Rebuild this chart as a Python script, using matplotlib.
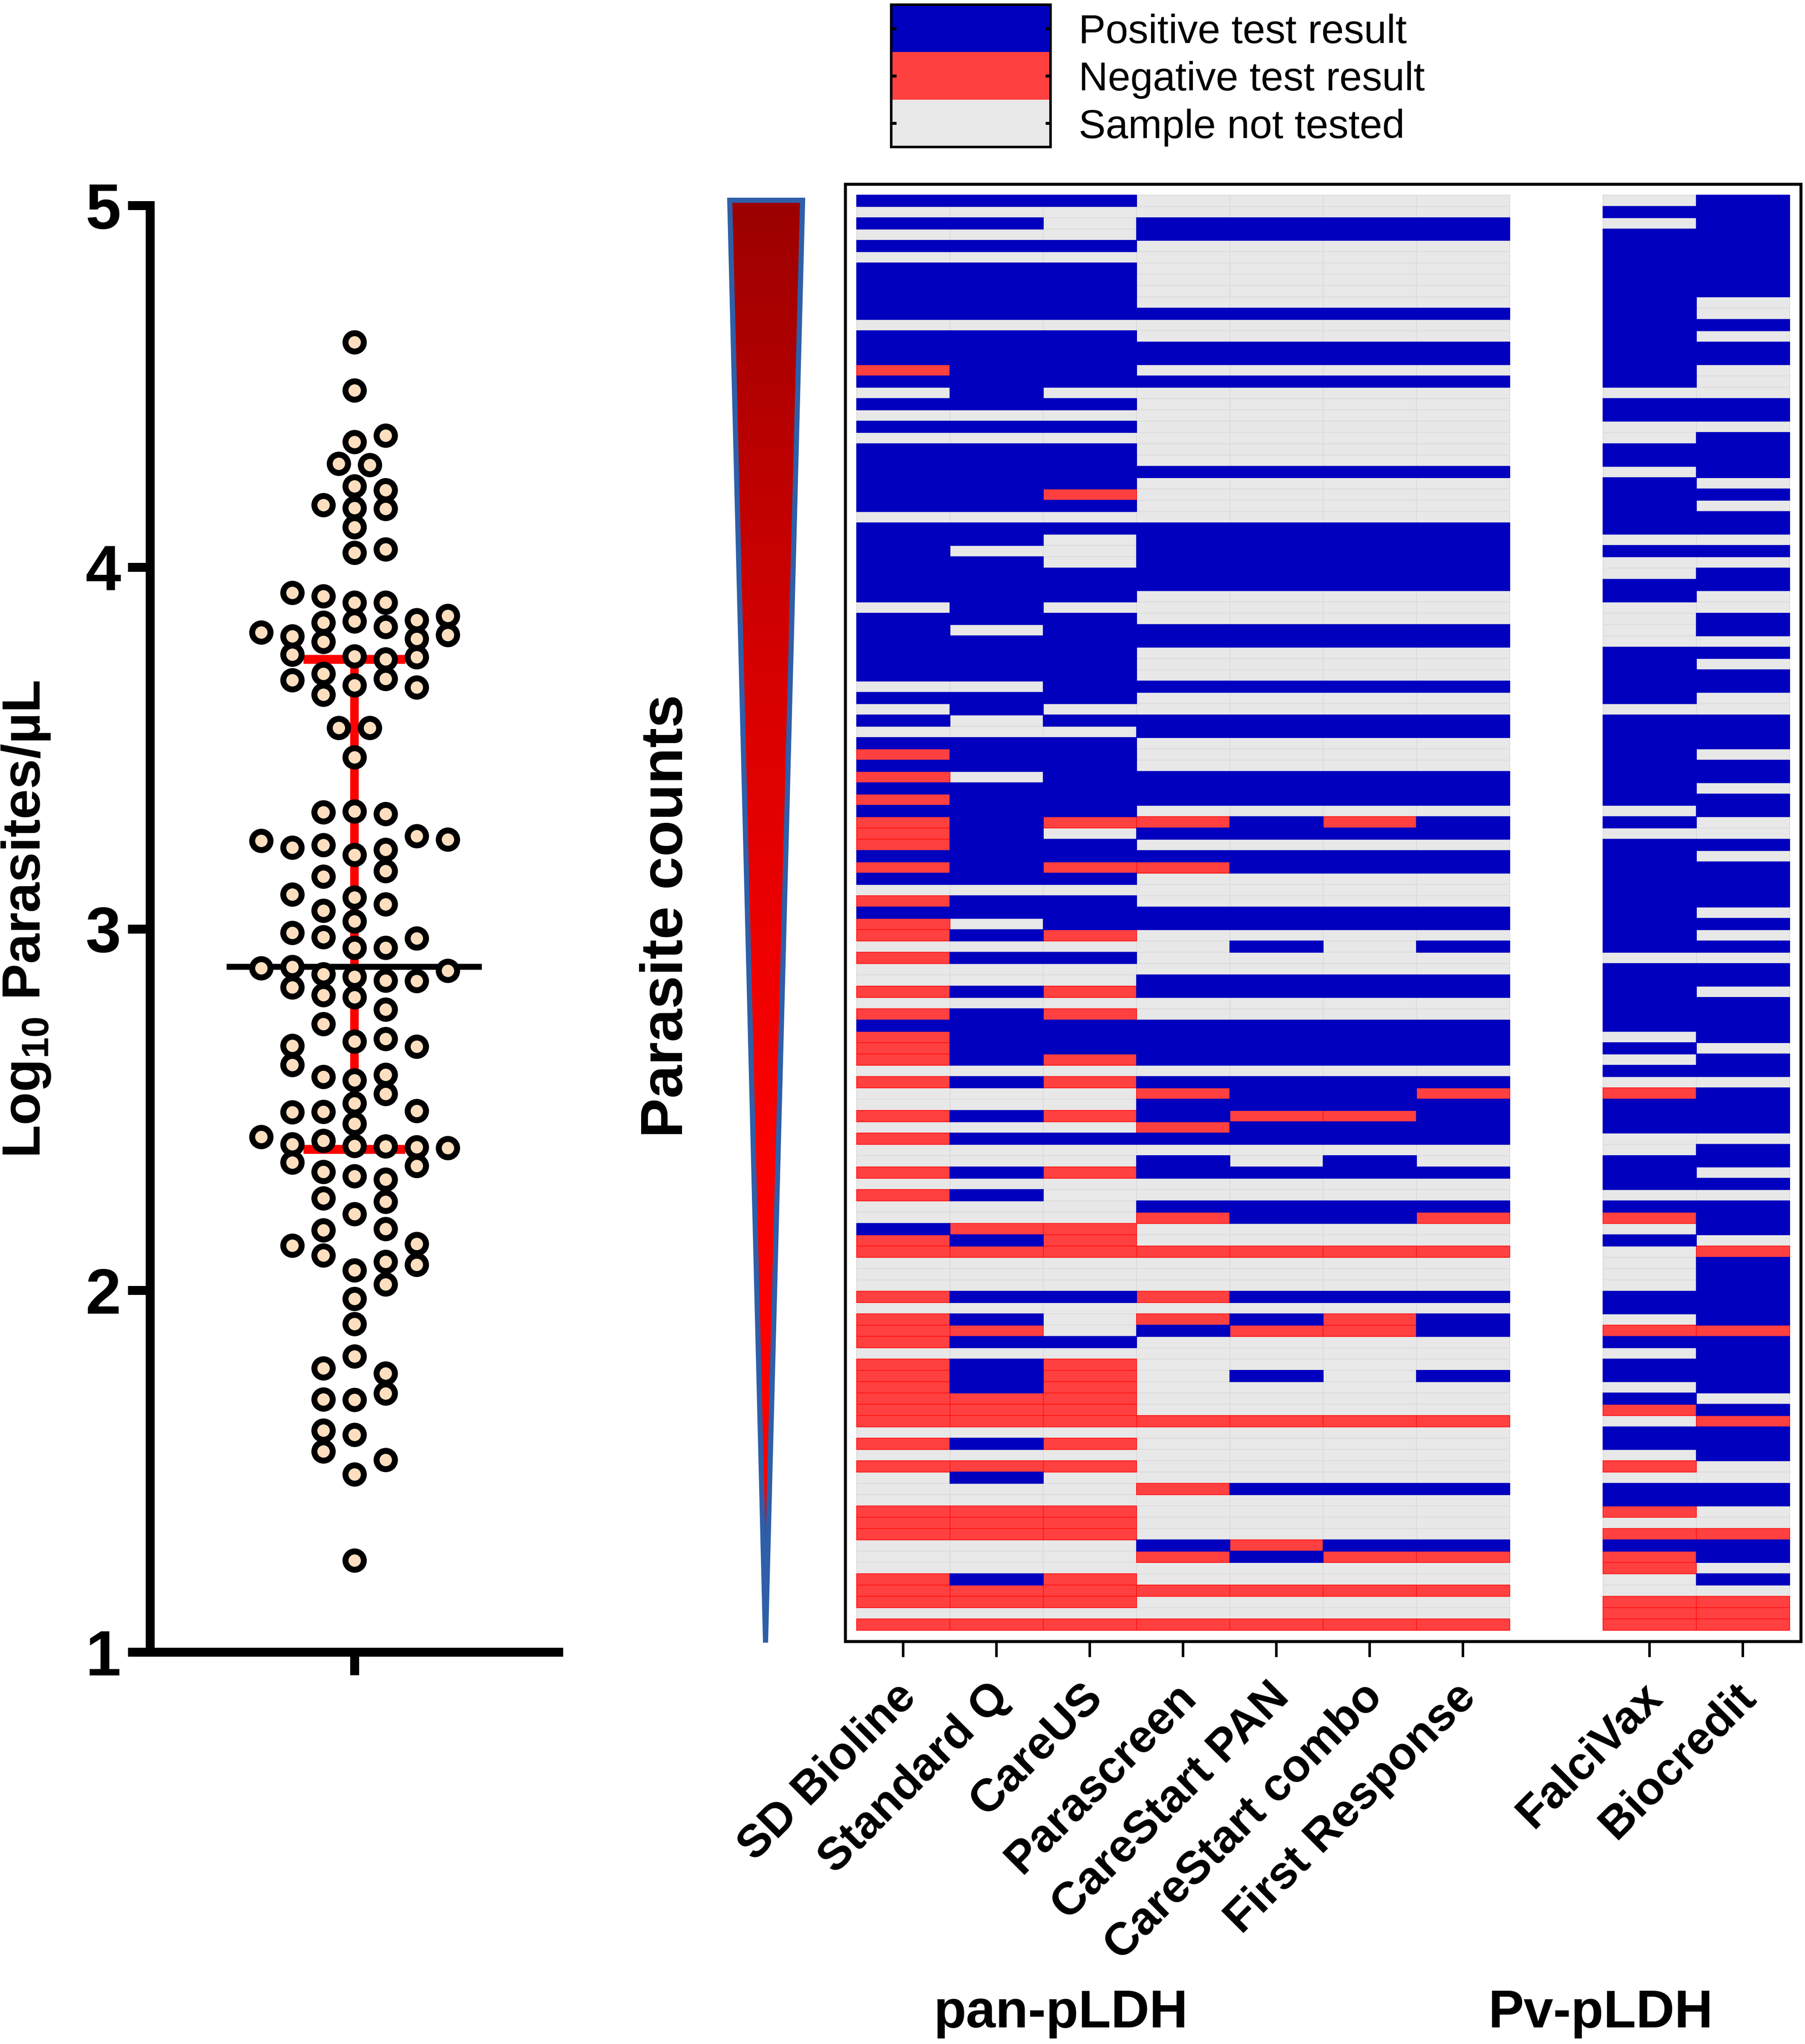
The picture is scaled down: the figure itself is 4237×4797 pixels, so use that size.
import numpy as np
import matplotlib
matplotlib.use("Agg")
import matplotlib.pyplot as plt
from matplotlib.colors import ListedColormap, LinearSegmentedColormap
from matplotlib.patches import Polygon
from matplotlib.transforms import ScaledTranslation

plt.rcParams["font.family"] = ["Liberation Sans", "DejaVu Sans"]
plt.rcParams["font.weight"] = "bold"
plt.rcParams["mathtext.fontset"] = "custom"
plt.rcParams["mathtext.rm"] = "Liberation Sans:bold"
plt.rcParams["mathtext.bf"] = "Liberation Sans:bold"

# swarm values, log10 parasites/uL, one list per swarm column
dots_m3 = [3.820, 3.243, 2.891, 2.424]
dots_m2 = [3.929, 3.809, 3.758, 3.687, 3.225, 3.095, 2.989, 2.895, 2.838, 2.677, 2.624, 2.493, 2.404,
           2.354, 2.124]
dots_m1 = [4.172, 3.919, 3.847, 3.793, 3.705, 3.647, 3.322, 3.231, 3.144, 3.050, 2.977, 2.875, 2.817,
           2.737, 2.590, 2.494, 2.414, 2.328, 2.255, 2.167, 2.097, 1.785, 1.699, 1.613, 1.555]
dots_mh = [4.286, 3.555]
dots_0 = [4.622, 4.489, 4.346, 4.224, 4.164, 4.111, 4.040, 3.902, 3.850, 3.753, 3.673, 3.474, 3.325,
          3.204, 3.087, 3.021, 2.947, 2.867, 2.811, 2.688, 2.581, 2.518, 2.461, 2.400, 2.316, 2.211,
          2.056, 1.977, 1.907, 1.818, 1.698, 1.601, 1.491, 1.253]
dots_ph = [4.283, 3.556]
dots_p1 = [4.364, 4.213, 4.161, 4.049, 3.902, 3.835, 3.745, 3.691, 3.318, 3.219, 3.160, 3.068, 2.947,
           2.857, 2.777, 2.695, 2.597, 2.544, 2.399, 2.307, 2.245, 2.170, 2.079, 2.017, 1.770, 1.715,
           1.531]
dots_p2 = [3.854, 3.802, 3.751, 3.667, 3.256, 2.974, 2.856, 2.674, 2.496, 2.396, 2.344, 2.129, 2.071]
dots_p3 = [3.865, 3.812, 3.247, 2.884, 2.394]
swarm_slots = [-3, -2, -1, -0.5, 0, 0.5, 1, 2, 3]

median_value = 2.895
q1_value = 2.39
q3_value = 3.745

pan_tests = ["SD Bioline", "Standard Q", "CareUS", "Parascreen", "CareStart PAN", "CareStart combo",
             "First Response"]
pv_tests = ["FalciVax", "Biocredit"]

# P positive, N negative, E not tested, highest parasite count first
pan_rows = """PPPEEEE EEEEEEE PPEPPPP EEEPPPP PPPEEEE EEEEEEE PPPEEEE PPPEEEE PPPEEEE PPPEEEE
PPPPPPP EEEEEEE PPPEEEE PPPPPPP PPPPPPP NPPEEEE PPPPPPP EPEEEEE PPPEEEE EEEEEEE
PPPEEEE EEEEEEE PPPEEEE PPPEEEE PPPPPPP PPPEEEE PPNEEEE PPPEEEE EEEEEEE PPPPPPP
PPEPPPP PEEPPPP PPEPPPP PPPPPPP PPPPPPP PPPEEEE EPEEEEE PPPEEEE PEPPPPP PPPPPPP
PPPEEEE PPPEEEE PPPEEEE EEPPPPP PPPEEEE EPEEEEE PEPPPPP EEEPPPP PPPEEEE NPPEEEE
PPPEEEE NEPPPPP PPPPPPP NPPPPPP PPPEEEE NPNNPNP NPEPPPP NPPEEEE PPPPPPP NPNNPPP
PPPEEEE EEEEEEE NPPEEEE PPPPPPP NEPPPPP NPNEEEE EEEEPEP NPPEEEE EEEEEEE EEEPPPP
NPNPPPP EEEEEEE NPNEEEE PPPPPPP NPPPPPP NPPPPPP NPNPPPP EEEEEEE NPNPPPP EEENPPN
EEEPPPP NPNPNNP EEENPPP NPPPPPP EEEEEEE EEEPEPE NPNPPPP EEEEEEE NPEEEEE EEEPPPP
EEENPPN PNNEEEE NPNEEEE NNNNNNN EEEEEEE EEEEEEE EEEEEEE NPPNPPP EEEEEEE NPENPNP
NNEPNNP NPPEEEE EEEEEEE NPNEEEE NPNEPEP NPNEEEE NNNEEEE NNNEEEE NNNNNNN EEEEEEE
NPNEEEE EEEEEEE NNNEEEE EPEEEEE EEENPPP EEEEEEE NNNEEEE NNNEEEE NNNEEEE EEEPNPP
EEENPNN EEEEEEE NPNEEEE NNNNNNN NNNEEEE EEEEEEE NNNNNNN""".split()

pv_rows = """EP PP EP PP PP PP PP PP PP PE PE PP PE PP PP PE PE EE PP PP
EE EP PP PP EP PE PP PE PP PP EE PP EE EP PP PE EE EP EP EE
PP PE PP PP PE EE PP PP PP PE PP PP PE PP EP PE EE PP PE PP
PP PP PP PE PP PE PP EE PP PP PE PP PP PP EP PE EP PP EE NP
PP PP PP EE EP PP PE PP EE PP NP EP PE EN EP EP EP PP PP EP
NN PP EP PP PP EP PE NP EN PP PP EP NE EE PP PP NE EE NN PP
NP NE EP EE NN NN NN""".split()

W, H = 4237, 4797
BLUE = "#0000BE"
RED = "#FF4040"
GREY = "#E8E8E8"


def px_axes(x0, y0, x1, y1, **kw):
    return fig.add_axes([x0 / W, 1 - y1 / H, (x1 - x0) / W, (y1 - y0) / H], **kw)


def px(n):
    # pixels to points at 300 dpi
    return n * 72 / 300


fig = plt.figure(figsize=(W / 300, H / 300), dpi=300, facecolor="white")

# left panel: swarm of log parasite counts
ax = px_axes(352, 482, 1311, 3877)
ax.patch.set_alpha(0)
ax.set_xlim((352 - 831.6) / 73, (1311 - 831.6) / 73)
ax.set_ylim(1, 5)
for s in ["top", "right"]:
    ax.spines[s].set_visible(False)
for s in ["left", "bottom"]:
    ax.spines[s].set_linewidth(px(21))
ax.set_yticks([1, 2, 3, 4, 5])
ax.set_xticks([0])
ax.set_xticklabels([""])
ax.tick_params(axis="y", width=px(21), length=px(52), labelsize=36, pad=px(16))
ax.tick_params(axis="x", width=px(21), length=px(54))

ax.plot([0, 0], [q1_value, q3_value], color="#FF0000", lw=px(20), solid_capstyle="butt", zorder=2)
for q in [q1_value, q3_value]:
    ax.plot([-1.64, 1.64], [q, q], color="#FF0000", lw=px(21), solid_capstyle="butt", zorder=2)
ax.plot([-4.1, 4.1], [median_value, median_value], color="black", lw=px(14), solid_capstyle="butt", zorder=3)

swarm = [dots_m3, dots_m2, dots_m1, dots_mh, dots_0, dots_ph, dots_p1, dots_p2, dots_p3]
for slot, vals in zip(swarm_slots, swarm):
    ax.plot([slot] * len(vals), vals, "o", ms=px(43), mew=px(14), mec="black", mfc="#FDDFBF",
            zorder=4, clip_on=False)

# right panel: test results per sample
rows = [a + "." + b for a, b in zip(pan_rows, pv_rows)]
codes = {"P": 0, "N": 1, "E": 2, ".": -1}
grid = np.array([[codes[c] for c in r] for r in rows])
n_rows, n_cols = grid.shape
x_edges = np.arange(n_cols + 1)
y_edges = np.arange(n_rows + 1)

hm = px_axes(1984, 432, 4227, 3852)
hm.set_xlim(-0.123, n_cols + 0.119)
hm.set_ylim(n_rows + 0.98, -0.98)
cell_styles = [(2, GREY, "#DCDCDC"), (1, RED, "#FF1818"), (0, BLUE, BLUE)]
for code, col, edge in cell_styles:
    hm.pcolor(x_edges, y_edges, np.ma.masked_where(grid != code, grid), cmap=ListedColormap([col]),
              edgecolors=edge, linewidths=px(2))
for s in hm.spines.values():
    s.set_linewidth(px(7))
hm.set_yticks([])
hm.set_xticks(list(np.arange(len(pan_tests)) + 0.5) + [8.5, 9.5])
hm.set_xticklabels(pan_tests + pv_tests, rotation=45, ha="right", va="center", rotation_mode="anchor",
                   fontsize=26)
hm.tick_params(axis="x", width=px(6), length=px(37), pad=px(78))
shift = ScaledTranslation(14 / 300, 0, fig.dpi_scale_trans)
for lab in hm.get_xticklabels():
    lab.set_transform(lab.get_transform() + shift)

# wedge next to the heatmap
over = fig.add_axes([0, 0, 1, 1], zorder=-1)
over.axis("off")
tri = Polygon([(1713, 470), (1884, 470), (1797, 3855)], closed=True, fc="none", ec="#2E5FA8", lw=px(12),
              joinstyle="miter", zorder=3)
over.add_patch(tri)
ramp = LinearSegmentedColormap.from_list("wedge", ["#9C0000", "#D80000", "#FF0000", "#FF0000"])
img = over.imshow(np.linspace(0, 1, 256)[:, None], extent=(1700, 1900, 3855, 470), cmap=ramp, aspect="auto")
img.set_clip_path(Polygon([(1713, 470), (1884, 470), (1797, 3855)], closed=True, transform=over.transData))
over.set_xlim(0, W)
over.set_ylim(H, 0)

# legend strip
leg = px_axes(2092, 11, 2466, 345)
leg_labels = ["Positive test result", "Negative test result", "Sample not tested"]
leg.pcolormesh(np.array([[0], [1], [2]]), cmap=ListedColormap([BLUE, RED, GREY]))
leg.set_ylim(3, 0)
leg.set_xticks([])
leg.set_yticks([0.5, 1.5, 2.5])
leg.set_yticklabels(leg_labels, fontsize=22.8, fontweight="normal")
leg.tick_params(axis="y", direction="in", left=True, right=True, labelleft=False, labelright=True,
                width=px(7), length=px(12), pad=px(66))
for s in leg.spines.values():
    s.set_linewidth(px(6))

fig.text(62 / W, 1 - 2157 / H, r"Log$_{10}$ Parasites/µL", rotation=90, ha="center", va="center", fontsize=30.5)
fig.text(1566 / W, 1 - 2150 / H, "Parasite counts", rotation=90, ha="center", va="center", fontsize=33.5)
fig.text(2490 / W, 1 - 4726 / H, "pan-pLDH", ha="center", va="center", fontsize=30)
fig.text(3757 / W, 1 - 4726 / H, "Pv-pLDH", ha="center", va="center", fontsize=30)

fig.savefig("out.png", dpi=300, facecolor="white")
